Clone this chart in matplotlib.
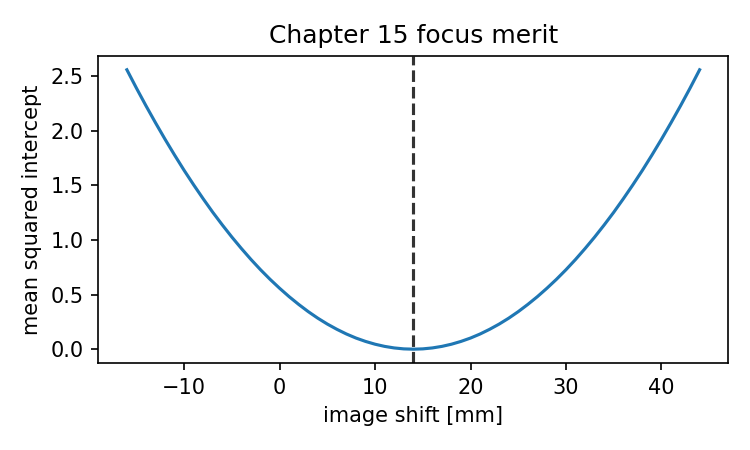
import matplotlib
matplotlib.use("Agg")
import matplotlib.pyplot as plt

shift_mm = [-16, -15, -14, -13, -12, -11, -10, -9, -8, -7, -6, -5, -4, -3, -2, -1,
            0, 1, 2, 3, 4, 5, 6, 7, 8, 9, 10, 11, 12, 13, 14,
            15, 16, 17, 18, 19, 20, 21, 22, 23, 24, 25, 26, 27, 28, 29,
            30, 31, 32, 33, 34, 35, 36, 37, 38, 39, 40, 41, 42, 43, 44]
merit = [2.560, 2.392, 2.230, 2.074, 1.923, 1.778, 1.638, 1.505, 1.377, 1.254,
         1.138, 1.027, 0.922, 0.822, 0.728, 0.640, 0.558, 0.481, 0.410, 0.344,
         0.284, 0.230, 0.182, 0.139, 0.102, 0.0711, 0.0455, 0.0256, 0.0114, 0.0028,
         0.0,
         0.0028, 0.0114, 0.0256, 0.0455, 0.0711, 0.102, 0.139, 0.182, 0.230, 0.284,
         0.344, 0.410, 0.481, 0.558, 0.640, 0.728, 0.822, 0.922, 1.027, 1.138,
         1.254, 1.377, 1.505, 1.638, 1.778, 1.923, 2.074, 2.230, 2.392, 2.560]
best_focus = 14

fig = plt.figure(figsize=(5, 3), dpi=150)
ax = fig.add_axes([0.131, 0.193, 0.840, 0.683])
ax.plot(shift_mm, merit, color="#1f77b4", lw=1.5)
ax.axvline(best_focus, color="k", ls="--", alpha=0.8, lw=1.5)
ax.set_title("Chapter 15 focus merit")
ax.set_xlabel("image shift [mm]")
ax.set_ylabel("mean squared intercept")
fig.savefig("out.png", dpi=150)
